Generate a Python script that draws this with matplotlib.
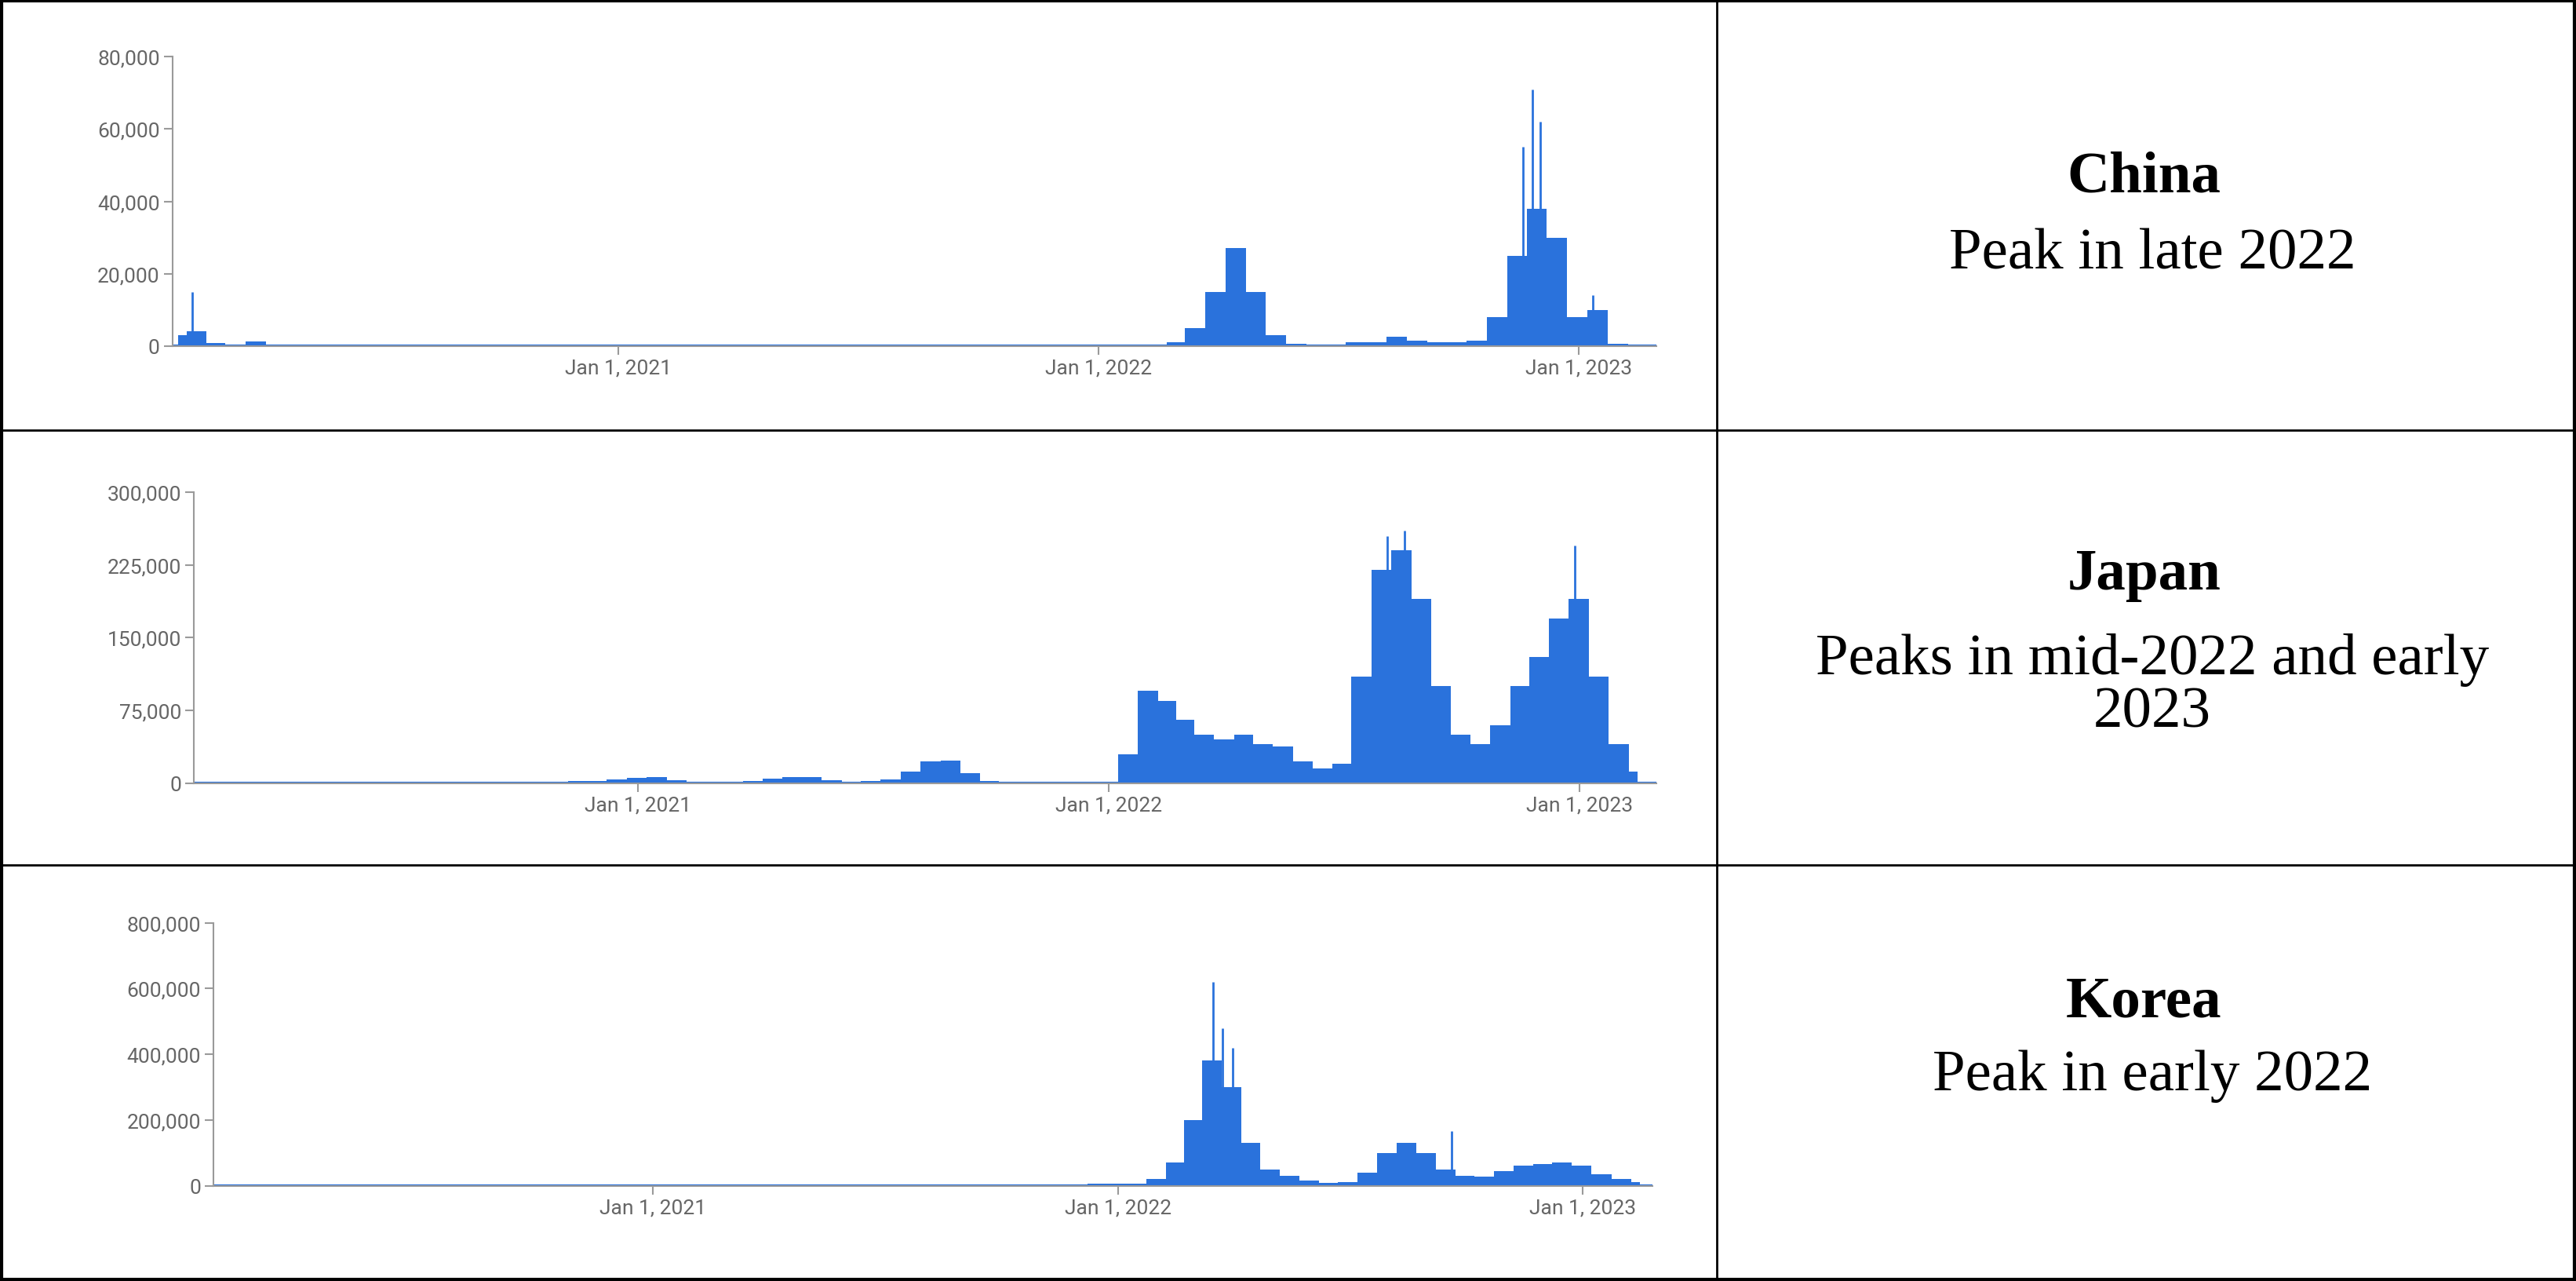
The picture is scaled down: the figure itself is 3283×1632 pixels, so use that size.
import matplotlib
matplotlib.use("Agg")
import matplotlib.pyplot as plt
import numpy as np
import datetime as dt

# semi-monthly dates from 2020-02-01 to 2023-02-15
dates = []
for y in (2020, 2021, 2022, 2023):
    for m in range(1, 13):
        for d in (1, 15):
            t = dt.date(y, m, d)
            if dt.date(2020, 1, 22) <= t <= dt.date(2023, 2, 22):
                dates.append(t)
dates = np.array(dates, dtype="datetime64[D]")

# thousands of cases
china_2020 = [3, 4, 0.8, 0.1, 1.2, 0.1] + [0.05] * 16
china_2021 = [0.05] * 24
china_2022 = [0.1, 0.1, 0.1, 0.2, 1, 5, 15, 27, 15, 3, 0.5, 0.2, 0.3, 1, 1, 2.5, 1.5, 1, 1, 1.5, 8, 25, 38, 30]
china_2023 = [8, 10, 0.5, 0.1]

japan_2020 = [0.02, 0.05, 0.1, 0.2, 0.4, 0.5, 0.2, 0.05, 0.05, 0.1, 0.3, 1.0, 1.4, 1.2, 0.7, 0.5, 0.5, 0.6,
              1, 2, 2.5, 3.5]
japan_2021 = [5, 6, 3, 1.5, 1.2, 1.5, 2.5, 4.5, 6, 6, 3, 1.7, 2, 4, 12, 22, 23, 10, 2, 0.6, 0.3, 0.2, 0.15, 0.2]
japan_2022 = [0.5, 30, 95, 85, 65, 50, 45, 50, 40, 38, 22, 15, 20, 110, 220, 240, 190, 100, 50, 40, 60, 100,
              130, 170]
japan_2023 = [190, 110, 40, 12]

korea_2020 = [0.01, 0.1, 0.6, 0.2, 0.1, 0.03, 0.03, 0.04, 0.04, 0.05, 0.05, 0.1, 0.3, 0.2, 0.1, 0.1, 0.1, 0.2,
              0.4, 0.6, 0.9, 1]
korea_2021 = [0.8, 0.5, 0.4, 0.4, 0.4, 0.5, 0.5, 0.6, 0.7, 0.7, 0.6, 0.6, 0.8, 1.5, 1.7, 1.8, 1.9, 2, 2, 1.7,
              2.5, 3, 4.5, 6]
korea_2022 = [5, 5, 20, 70, 200, 380, 300, 130, 50, 30, 15, 8, 10, 40, 100, 130, 100, 50, 30, 28, 45, 60, 65, 70]
korea_2023 = [60, 35, 20, 12]

china = np.array(china_2020 + china_2021 + china_2022 + china_2023) * 1000
japan = np.array(japan_2020 + japan_2021 + japan_2022 + japan_2023) * 1000
korea = np.array(korea_2020 + korea_2021 + korea_2022 + korea_2023) * 1000

china_spike_dates = np.array(["2020-02-12", "2022-11-20", "2022-11-27", "2022-12-03", "2023-01-12"], dtype="datetime64[D]")
china_spike_vals = [15000, 55000, 71000, 62000, 14000]
japan_spike_dates = np.array(["2022-08-05", "2022-08-18", "2022-12-28"], dtype="datetime64[D]")
japan_spike_vals = [255000, 260000, 245000]
korea_spike_dates = np.array(["2022-03-17", "2022-03-24", "2022-04-01", "2022-09-20"], dtype="datetime64[D]")
korea_spike_vals = [620000, 480000, 420000, 165000]

titles = ["China", "Japan", "Korea"]
subs = ["Peak in late 2022", "Peaks in mid-2022 and early\n2023", "Peak in early 2022"]
yticks = [[0, 20000, 40000, 60000, 80000], [0, 75000, 150000, 225000, 300000],
          [0, 200000, 400000, 600000, 800000]]
xtick_dates = np.array(["2021-01-01", "2022-01-01", "2023-01-01"], dtype="datetime64[D]")
xtick_labels = ["Jan 1, 2021", "Jan 1, 2022", "Jan 1, 2023"]

W, H = 1568, 780
fig = plt.figure(figsize=(32.83, 16.33), dpi=100)
for y in (262, 527):
    fig.add_artist(plt.Line2D([0, 1], [1 - y / H, 1 - y / H], color="black", lw=2))
fig.add_artist(plt.Line2D([1045 / W, 1045 / W], [0, 1], color="black", lw=2))
fig.add_artist(plt.Rectangle((0.0005, 0.001), 0.999, 0.998, fill=False, ec="black", lw=3))

boxes = [(105, 1008, 35, 211), (118, 1008, 300, 477), (130, 1006, 562, 722)]
series = [(china, china_spike_dates, china_spike_vals), (japan, japan_spike_dates, japan_spike_vals),
          (korea, korea_spike_dates, korea_spike_vals)]
xlims = [(np.datetime64("2020-01-28"), np.datetime64("2023-03-01")),
         (np.datetime64("2020-01-23"), np.datetime64("2023-03-01")),
         (np.datetime64("2020-01-22"), np.datetime64("2023-02-25"))]
textys = [(108, 155), (350, 418), (610, 655)]
blue = "#2a72dc"
for i in range(3):
    l, r, t, b = boxes[i]
    ax = fig.add_axes([l / W, 1 - b / H, (r - l) / W, (b - t) / H])
    vals, sd, sv = series[i]
    ax.fill_between(dates, vals, step="mid", color=blue, lw=0)
    ax.vlines(sd, 0, sv, color=blue, lw=2)
    ax.axhline(0, color=blue, lw=3)
    ax.set_xlim(*xlims[i])
    ax.set_ylim(0, yticks[i][-1])
    ax.set_yticks(yticks[i])
    ax.set_yticklabels([f"{v:,}" for v in yticks[i]])
    ax.set_xticks(xtick_dates)
    ax.set_xticklabels(xtick_labels)
    for s in ("top", "right"):
        ax.spines[s].set_visible(False)
    for s in ("left", "bottom"):
        ax.spines[s].set_color("#9a9a9a")
        ax.spines[s].set_linewidth(1.5)
    ax.tick_params(colors="#9a9a9a", labelcolor="#666666", labelsize=19, length=8, width=1.5, direction="out")
    for lab in ax.get_xticklabels() + ax.get_yticklabels():
        lab.set_family("Roboto")
    ty1, ty2 = textys[i]
    fig.text(1305 / W, 1 - ty1 / H, titles[i], ha="center", va="center", fontsize=54,
             fontweight="bold", family="Liberation Serif")
    fig.text(1310 / W, 1 - ty2 / H, subs[i], ha="center", va="center", fontsize=54,
             family="Liberation Serif", linespacing=1.0)

fig.savefig("out.png", dpi=100)
